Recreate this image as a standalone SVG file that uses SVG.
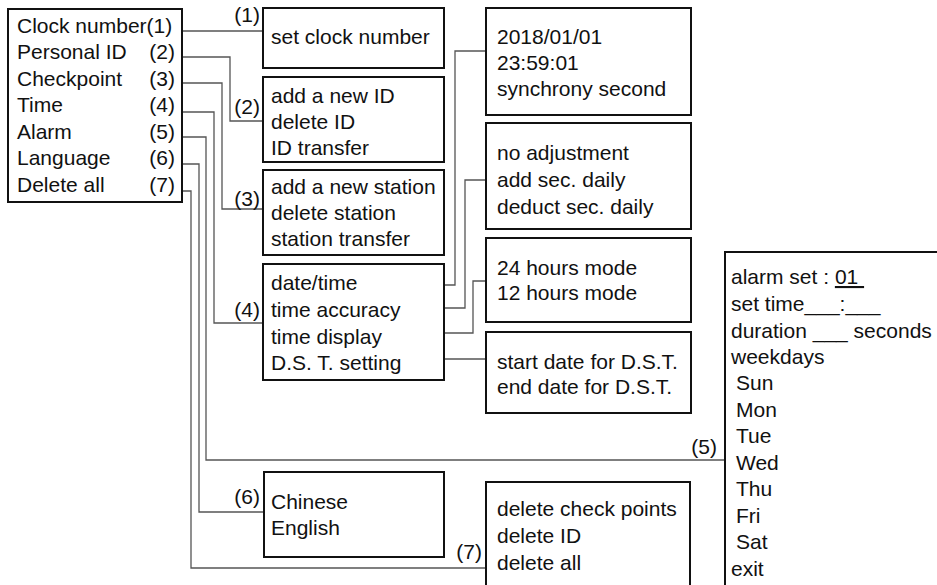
<svg xmlns="http://www.w3.org/2000/svg" width="937" height="585" viewBox="0 0 937 585">
<style>
text{font-family:"Liberation Sans",Arial,sans-serif;font-size:21px;fill:#111}
.box{fill:#fff;stroke:#111;stroke-width:2}
.c{fill:none;stroke:#555;stroke-width:1.3}
.n{text-anchor:end}
</style>
<rect width="937" height="585" fill="#fff"/>
<g id="connectors">
<polyline class="c" points="182,31 263,31"/>
<polyline class="c" points="182,57 230,57 230,121 263,121"/>
<polyline class="c" points="182,83 222,83 222,209 263,209"/>
<polyline class="c" points="182,112 214,112 214,323 263,323"/>
<polyline class="c" points="182,137 206,137 206,460 725,460"/>
<polyline class="c" points="182,164 199,164 199,512 263,512"/>
<polyline class="c" points="182,191 191,191 191,568 486,568"/>
<polyline class="c" points="444,285 455,285 455,51 486,51"/>
<polyline class="c" points="444,308 465,308 465,180 486,180"/>
<polyline class="c" points="444,333 473,333 473,281 486,281"/>
<polyline class="c" points="444,359 486,359"/>
<text class="n" x="260" y="22">(1)</text>
<text class="n" x="260" y="114">(2)</text>
<text class="n" x="260" y="206">(3)</text>
<text class="n" x="260" y="317">(4)</text>
<text class="n" x="717" y="454">(5)</text>
<text class="n" x="260" y="504">(6)</text>
<text class="n" x="482" y="559">(7)</text>
</g>
<g id="menu">
<rect class="box" x="8" y="9" width="174" height="193"/>
<text x="17" y="33">Clock number(1)</text>
<text x="17" y="59">Personal ID</text><text class="n" x="175" y="59">(2)</text>
<text x="17" y="86">Checkpoint</text><text class="n" x="175" y="86">(3)</text>
<text x="17" y="112">Time</text><text class="n" x="175" y="112">(4)</text>
<text x="17" y="139">Alarm</text><text class="n" x="175" y="139">(5)</text>
<text x="17" y="165">Language</text><text class="n" x="175" y="165">(6)</text>
<text x="17" y="192">Delete all</text><text class="n" x="175" y="192">(7)</text>
</g>
<g id="clocknumber">
<rect class="box" x="263" y="8" width="181" height="60"/>
<text x="271" y="44">set clock number</text>
</g>
<g id="personalid">
<rect class="box" x="263" y="77" width="181" height="85"/>
<text x="271" y="103">add a new ID</text>
<text x="271" y="129">delete ID</text>
<text x="271" y="155">ID transfer</text>
</g>
<g id="checkpoint">
<rect class="box" x="263" y="170" width="181" height="85"/>
<text x="271" y="194">add a new station</text>
<text x="271" y="220">delete station</text>
<text x="271" y="246">station transfer</text>
</g>
<g id="time">
<rect class="box" x="263" y="264" width="181" height="116"/>
<text x="271" y="290">date/time</text>
<text x="271" y="317">time accuracy</text>
<text x="271" y="344">time display</text>
<text x="271" y="370">D.S. T. setting</text>
</g>
<g id="datetime">
<rect class="box" x="486" y="8" width="205" height="107"/>
<text x="497" y="44">2018/01/01</text>
<text x="497" y="70">23:59:01</text>
<text x="497" y="96">synchrony second</text>
</g>
<g id="accuracy">
<rect class="box" x="486" y="123" width="205" height="106"/>
<text x="497" y="160">no adjustment</text>
<text x="497" y="187">add sec. daily</text>
<text x="497" y="214">deduct sec. daily</text>
</g>
<g id="display">
<rect class="box" x="486" y="238" width="205" height="84"/>
<text x="497" y="275">24 hours mode</text>
<text x="497" y="300">12 hours mode</text>
</g>
<g id="dst">
<rect class="box" x="486" y="332" width="205" height="81"/>
<text x="497" y="369">start date for D.S.T.</text>
<text x="497" y="394">end date for D.S.T.</text>
</g>
<g id="language">
<rect class="box" x="264" y="472" width="180" height="85"/>
<text x="271" y="509">Chinese</text>
<text x="271" y="535">English</text>
</g>
<g id="deleteall">
<rect class="box" x="486" y="482" width="204" height="120"/>
<text x="497" y="516">delete check points</text>
<text x="497" y="543">delete ID</text>
<text x="497" y="570">delete all</text>
</g>
<g id="alarm">
<rect class="box" x="725" y="252" width="230" height="360"/>
<text x="731" y="284" xml:space="preserve">alarm set : <tspan text-decoration="underline">01 </tspan></text>
<text x="731" y="311">set time___:___</text>
<text x="731" y="338">duration ___ seconds</text>
<text x="731" y="364">weekdays</text>
<text x="736" y="390">Sun</text>
<text x="736" y="417">Mon</text>
<text x="736" y="443">Tue</text>
<text x="736" y="470">Wed</text>
<text x="736" y="496">Thu</text>
<text x="736" y="523">Fri</text>
<text x="736" y="549">Sat</text>
<text x="731" y="576">exit</text>
</g>
</svg>
